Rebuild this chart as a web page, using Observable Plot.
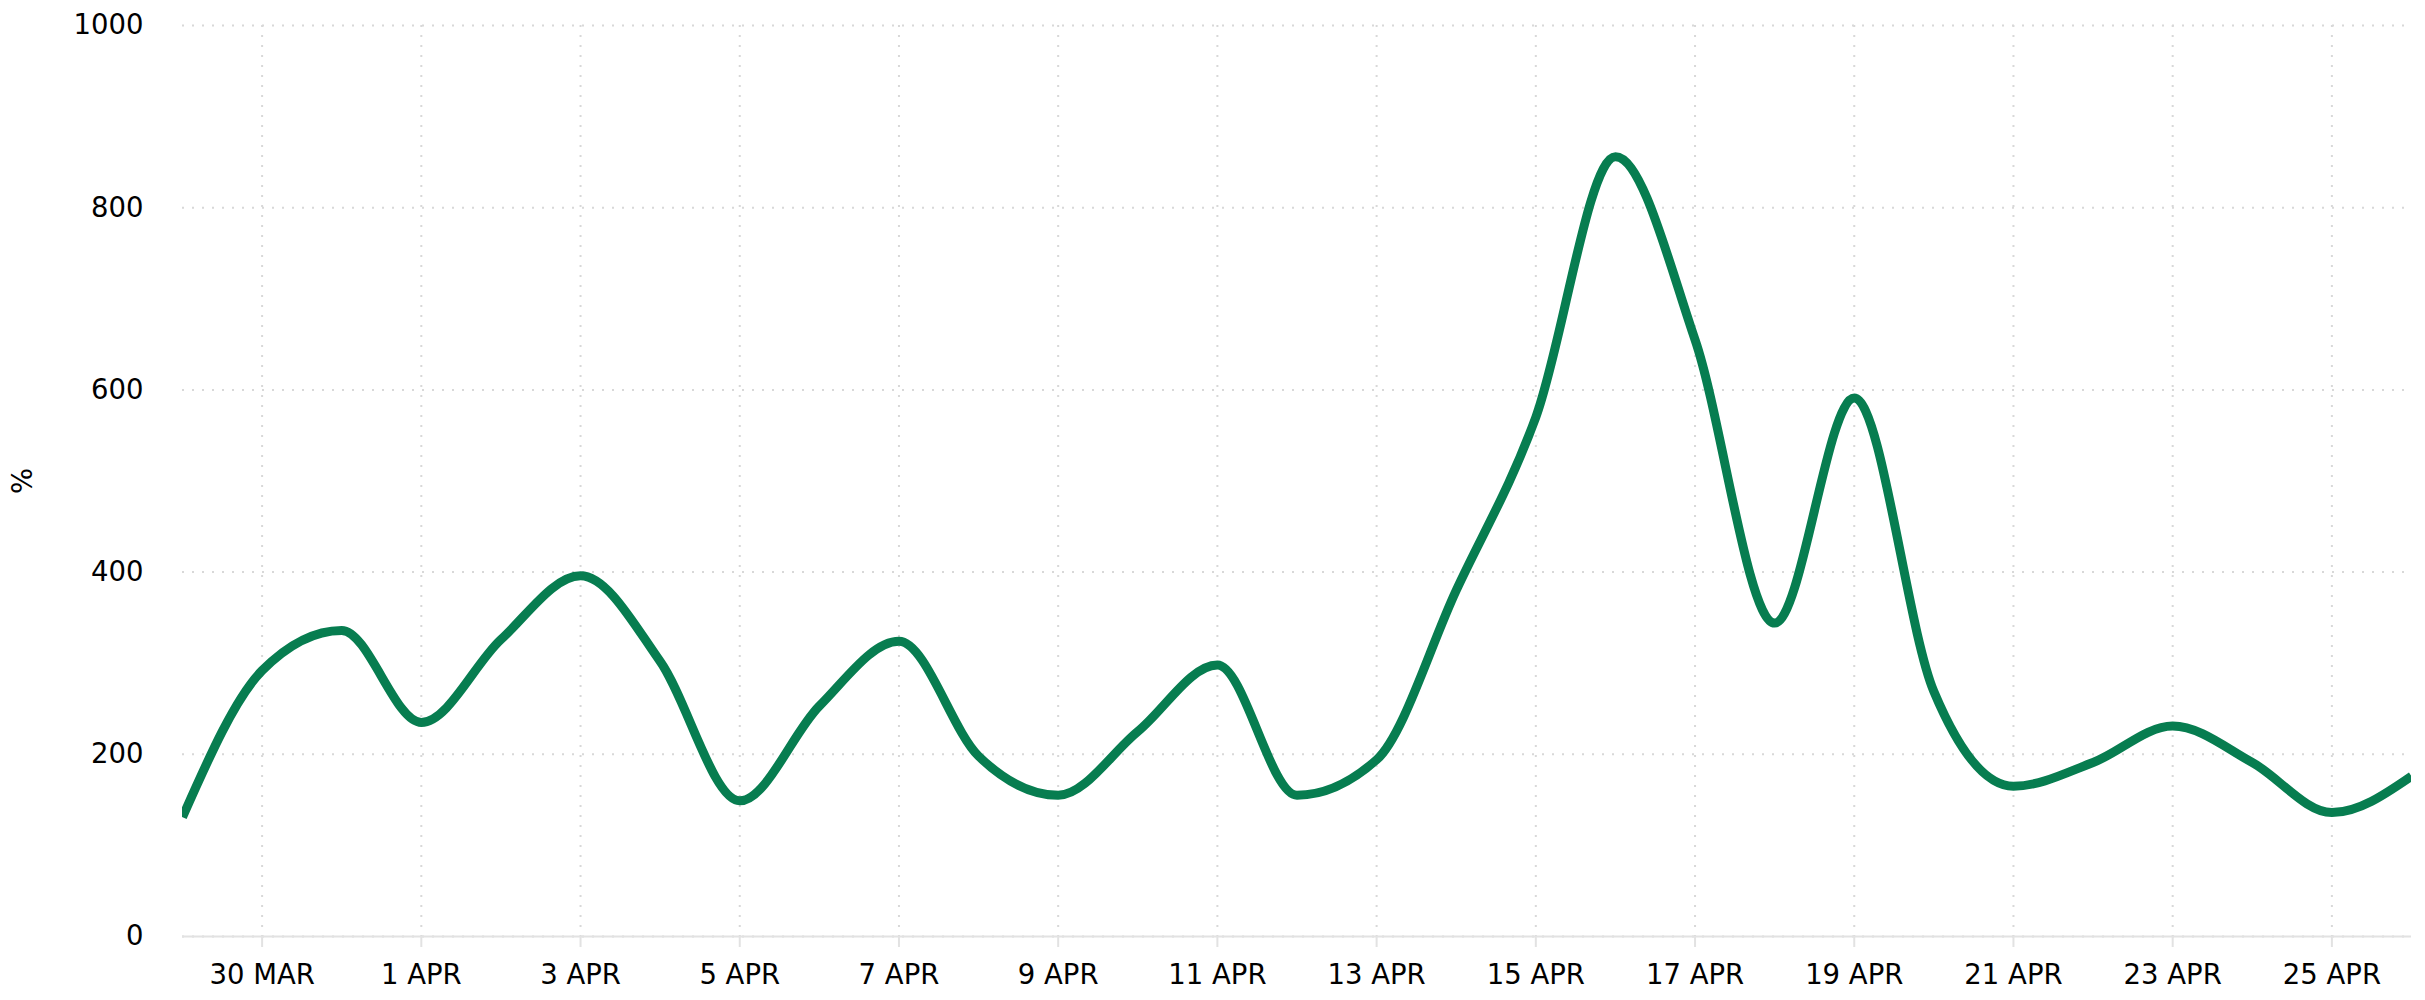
<!DOCTYPE html>
<html>
<head>
<meta charset="utf-8">
<script src="https://cdn.jsdelivr.net/npm/d3@7"></script>
<script src="https://cdn.jsdelivr.net/npm/@observablehq/plot@0.6"></script>
<style>
  html, body { margin: 0; padding: 0; background: #fff; }
  #chart svg { display: block; }
</style>
</head>
<body>
<div id="chart"></div>
<script>
// ---- data ----
const dates = [
  "2020-03-29", "2020-03-30", "2020-03-31", "2020-04-01", "2020-04-02",
  "2020-04-03", "2020-04-04", "2020-04-05", "2020-04-06", "2020-04-07",
  "2020-04-08", "2020-04-09", "2020-04-10", "2020-04-11", "2020-04-12",
  "2020-04-13", "2020-04-14", "2020-04-15", "2020-04-16", "2020-04-17",
  "2020-04-18", "2020-04-19", "2020-04-20", "2020-04-21", "2020-04-22",
  "2020-04-23", "2020-04-24", "2020-04-25", "2020-04-26"
];
const values = [
  131, 292, 336, 235, 326,
  396, 302, 149, 253, 324,
  198, 155, 225, 298, 155,
  194, 380, 570, 856, 655,
  344, 591, 269, 165, 191,
  231, 191, 136, 176
];
const tickDates = [
  "2020-03-30", "2020-04-01", "2020-04-03", "2020-04-05", "2020-04-07",
  "2020-04-09", "2020-04-11", "2020-04-13", "2020-04-15", "2020-04-17",
  "2020-04-19", "2020-04-21", "2020-04-23", "2020-04-25"
];
const monthLabels = ["JAN","FEB","MAR","APR","MAY","JUN","JUL","AUG","SEP","OCT","NOV","DEC"];
const yTicks = [0, 200, 400, 600, 800, 1000];
const yLabel = "%";

// ---- build ----
const data = dates.map((d, i) => ({date: new Date(d + "T00:00:00Z"), value: values[i]}));
const xTicks = tickDates.map(d => new Date(d + "T00:00:00Z"));
const fmt = d => `${d.getUTCDate()} ${monthLabels[d.getUTCMonth()]}`;

const gridStyle = {stroke: "#d8d8d8", strokeOpacity: 1, strokeWidth: 2, strokeDasharray: "2 8"};

const chart = Plot.plot({
  width: 2425,
  height: 1000,
  marginTop: 25,
  marginRight: 14,
  marginBottom: 64,
  marginLeft: 182,
  style: {fontFamily: "'DejaVu Sans', sans-serif", fontSize: "27.5px", color: "#000", background: "#fff"},
  x: {type: "utc", domain: [data[0].date, data[data.length - 1].date]},
  y: {domain: [0, 1000]},
  marks: [
    Plot.gridY(yTicks, gridStyle),
    Plot.gridX(xTicks, gridStyle),
    Plot.ruleY([0], {stroke: "#e2e2e2", strokeWidth: 2}),
    Plot.axisX(xTicks, {
      tickSize: 11, tickPadding: 17, stroke: "#e2e2e2", strokeWidth: 2,
      tickFormat: fmt, label: null, fontSize: 27.5
    }),
    Plot.axisY(yTicks, {
      tickSize: 0, tickPadding: 39, tickFormat: d3.format("d"),
      label: yLabel, labelAnchor: "center",
      labelArrow: false, labelOffset: 170, fontSize: 27.5
    }),
    Plot.lineY(data, {
      x: "date", y: "value", stroke: "#077d50", strokeWidth: 9,
      curve: "monotone-x", strokeLinejoin: "round", strokeLinecap: "butt",
      clip: "frame"
    })
  ]
});
document.getElementById("chart").appendChild(chart);
</script>
</body>
</html>
